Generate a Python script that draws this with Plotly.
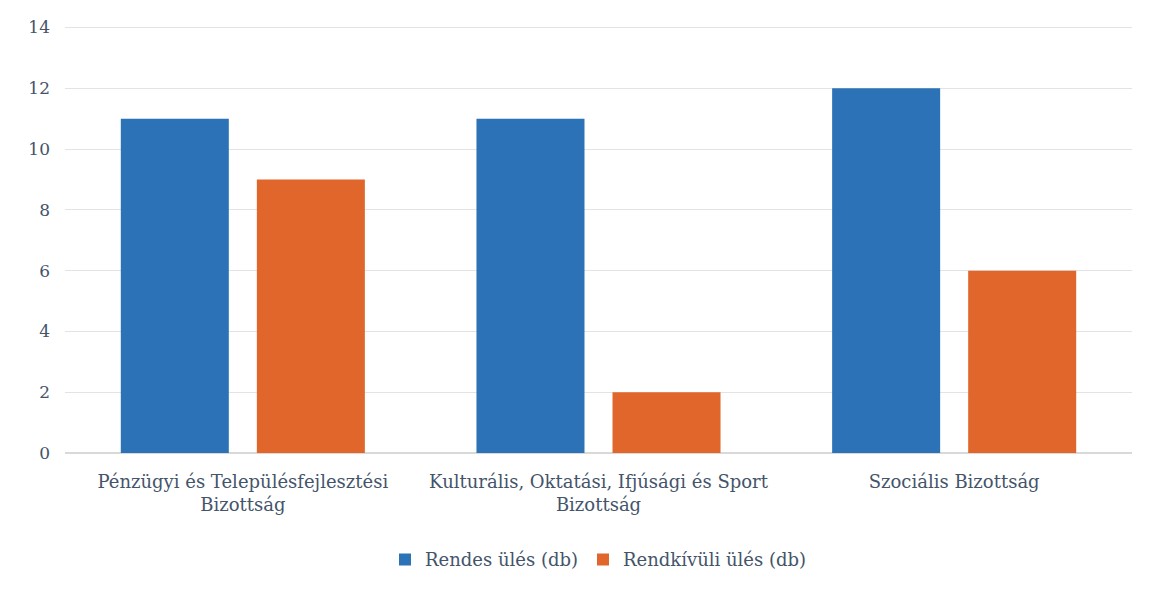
import plotly.graph_objects as go

categories = ["Pénzügyi és Településfejlesztési<br>Bizottság",
              "Kulturális, Oktatási, Ifjúsági és Sport<br>Bizottság",
              "Szociális Bizottság"]
rendes = [11, 11, 12]
rendkivuli = [9, 2, 6]
series_names = ["Rendes ülés (db)", "Rendkívüli ülés (db)"]

font_family = "'DejaVu Serif', 'Liberation Serif', serif"
text_color = "#44546a"

fig = go.Figure()
fig.add_trace(go.Bar(x=categories, y=rendes, name=series_names[0],
                     marker=dict(color="#2c72b6", line=dict(width=0))))
fig.add_trace(go.Bar(x=categories, y=rendkivuli, name=series_names[1],
                     marker=dict(color="#e0662c", line=dict(width=0))))

fig.update_layout(
    width=1152, height=591,
    barmode="group", bargap=0.235, bargroupgap=0.206,
    paper_bgcolor="white", plot_bgcolor="white",
    margin=dict(l=57, r=28, t=9, b=146),
    font=dict(family=font_family, size=18, color=text_color),
    legend=dict(orientation="h", x=0.5, xanchor="center", y=-0.25, yanchor="middle",
                font=dict(family=font_family, size=18, color=text_color),
                itemwidth=30, traceorder="normal"),
    xaxis=dict(showgrid=False, showline=True, linecolor="#d9d9d9", linewidth=1,
               tickfont=dict(family=font_family, size=18, color=text_color), ticks="",
               ticklabelstandoff=12),
    yaxis=dict(range=[0, 14.05], tickvals=[0, 2, 4, 6, 8, 10, 12, 14],
               showgrid=True, gridcolor="#e3e3e3",
               zeroline=True, zerolinecolor="#d9d9d9", showline=False,
               tickfont=dict(family=font_family, size=17, color=text_color),
               ticklabelstandoff=14),
)

fig.write_html("out.html")
